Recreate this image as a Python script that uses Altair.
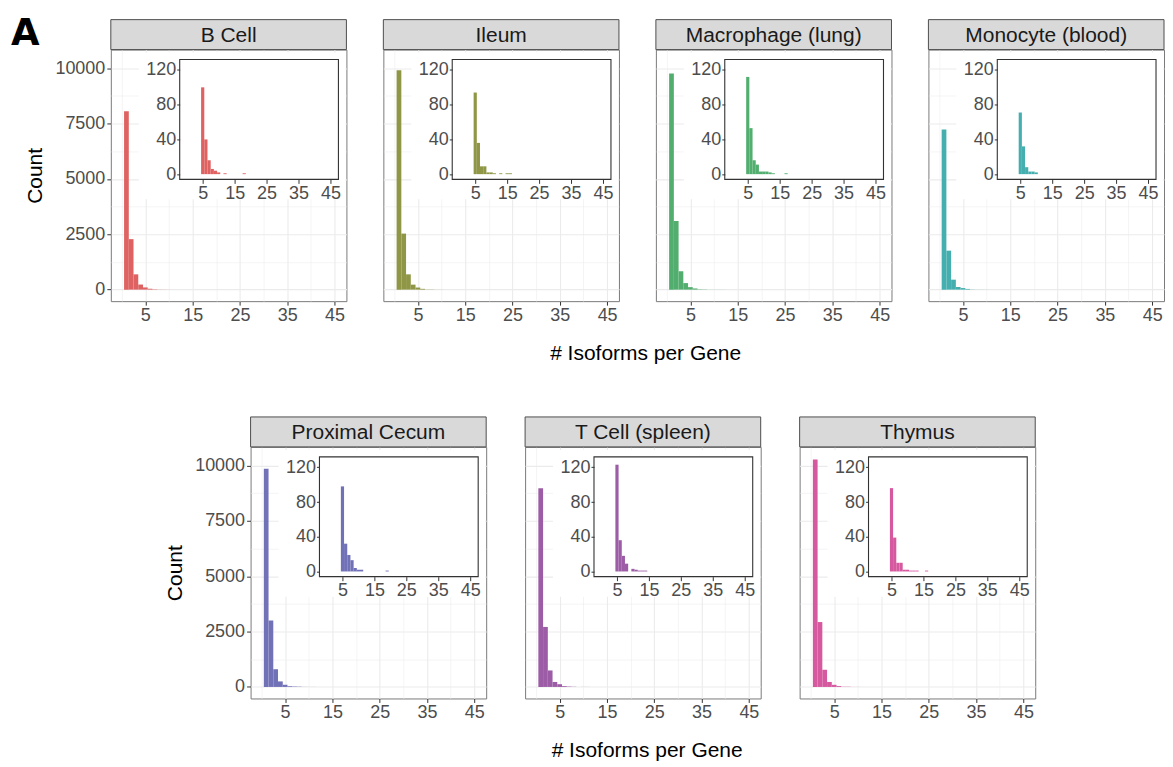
import altair as alt
import pandas as pd

# ---------------- data ----------------
isoforms = list(range(1, 21))

tissues = ["B Cell", "Ileum", "Macrophage (lung)", "Monocyte (blood)",
           "Proximal Cecum", "T Cell (spleen)", "Thymus"]
colors = ["#DF6262", "#8F9645", "#52AE6E", "#45AFB0", "#7171B8", "#9C5CA6", "#D6589F"]

b_cell     = [8050, 2280, 690, 230, 100, 40, 16, 6, 4, 2, 0, 1, 0, 0, 0, 0, 0, 1, 0, 0]
ileum      = [9910, 2530, 690, 225, 94, 36, 9, 9, 2, 2, 1, 0, 1, 0, 1, 1, 0, 0, 0, 0]
macrophage = [9760, 3100, 830, 295, 112, 53, 16, 11, 3, 3, 3, 2, 1, 0, 0, 0, 1, 0, 0, 0]
monocyte   = [7230, 1760, 450, 120, 71, 32, 8, 3, 3, 2, 0, 0, 0, 0, 0, 0, 0, 0, 0, 0]
cecum      = [9850, 3000, 800, 250, 98, 32, 19, 13, 4, 2, 2, 0, 0, 0, 0, 0, 0, 0, 1, 0]
t_cell     = [8970, 2710, 745, 225, 123, 36, 18, 9, 0, 3, 2, 1, 1, 1, 0, 0, 0, 0, 0, 0]
thymus     = [10270, 2930, 776, 225, 96, 39, 10, 10, 2, 2, 1, 1, 1, 0, 0, 1, 0, 0, 0, 0]

x_grid = [0, 5, 10, 15, 20, 25, 30, 35, 40, 45]
y_grid = [0, 1250, 2500, 3750, 5000, 6250, 7500, 8750, 10000]
inset_x_ticks = [5, 15, 25, 35, 45]
inset_y_ticks = [0, 40, 80, 120]

# ---------------- layout constants ----------------
W, H = 236, 252
STRIP = 30
X_DOM = [-2.3, 47.5]
Y_DOM = [-520, 10840]
IX_DOM = [-2.2, 47.5]
IY_DOM = [-6, 132]
IX_RANGE = [69, 228]
IY_RANGE = [130, 10]
FONT = "Liberation Sans"
TICK_FS = 18
SPACER_W = 15


def make_panel(name, counts, color, first=False, letter=False):
    df = pd.DataFrame({"isoforms": isoforms, "count": counts})
    df = df[df["count"] > 0].reset_index(drop=True)
    df_in = df[df["isoforms"] >= 5].reset_index(drop=True)
    lab = pd.DataFrame({"name": [name]})

    xmaj = "datum.value % 10 == 5"
    x_axis = alt.Axis(
        values=x_grid, labelExpr=f"{xmaj} ? datum.label : ''",
        tickOpacity={"condition": {"test": xmaj, "value": 1}, "value": 0},
        gridWidth={"condition": {"test": xmaj, "value": 1.1}, "value": 0.55},
        gridColor="#EBEBEB", domain=False, tickColor="#333333", tickSize=4,
        labelPadding=1, labelFontSize=TICK_FS, labelColor="#4D4D4D", title=None,
        labelOverlap=False, labelFlush=False, labelBound=False)

    ymaj = "datum.value % 2500 == 0"
    if first:
        y_axis = alt.Axis(
            values=y_grid, format="d", labelExpr=f"{ymaj} ? datum.label : ''",
            tickOpacity={"condition": {"test": ymaj, "value": 1}, "value": 0},
            gridWidth={"condition": {"test": ymaj, "value": 1.1}, "value": 0.55},
            gridColor="#EBEBEB", domain=False, tickColor="#333333", tickSize=4,
            labelPadding=2, labelFontSize=TICK_FS, labelColor="#4D4D4D",
            title="Count", titleFontSize=21, titleFontWeight="normal",
            titleColor="black", titlePadding=9, labelOverlap=False)
    else:
        y_axis = alt.Axis(
            values=y_grid, labels=False, ticks=False, domain=False,
            gridWidth={"condition": {"test": ymaj, "value": 1.1}, "value": 0.55},
            gridColor="#EBEBEB", title=None)

    calc = dict(lo="datum.isoforms - 0.5", hi="datum.isoforms + 0.5", base="0")

    bg = alt.Chart(lab).mark_rect(fill="white").encode(
        x=alt.value(28), x2=alt.value(W - 1), y=alt.value(3), y2=alt.value(150))

    bars = alt.Chart(df).transform_calculate(**calc).mark_rect(color=color).encode(
        x=alt.X("lo:Q", scale=alt.Scale(domain=X_DOM, nice=False, zero=False), axis=x_axis),
        x2="hi:Q",
        y=alt.Y("count:Q", scale=alt.Scale(domain=Y_DOM, nice=False, zero=False), axis=y_axis),
        y2="base:Q")

    strip = alt.Chart(lab).mark_rect(fill="#D9D9D9", stroke="#4D4D4D", strokeWidth=1).encode(
        x=alt.value(0), x2=alt.value(W), y=alt.value(-STRIP), y2=alt.value(0))
    strip_text = alt.Chart(lab).mark_text(
        font=FONT, fontSize=21, color="#1A1A1A", align="center", baseline="middle").encode(
        text="name:N", x=alt.value(W / 2), y=alt.value(-STRIP / 2 + 1))

    main_layers = [bg, bars, strip, strip_text]
    if letter:
        a_txt = alt.Chart(lab).mark_text(
            text="A", font="DejaVu Sans", fontWeight="bold", fontSize=37,
            align="left", baseline="alphabetic", color="black").encode(
            x=alt.value(-100), y=alt.value(-5))
        main_layers.append(a_txt)
    main = alt.layer(*main_layers)

    box = alt.Chart(lab).mark_rect(fill="white", stroke="#333333", strokeWidth=1.1).encode(
        x=alt.value(IX_RANGE[0]), x2=alt.value(IX_RANGE[1]),
        y=alt.value(IY_RANGE[1]), y2=alt.value(IY_RANGE[0]))

    ix_axis = alt.Axis(
        orient="bottom", offset=IY_RANGE[0] - H, values=inset_x_ticks, grid=False,
        domain=False, tickColor="#333333", tickSize=4, labelPadding=1,
        labelFontSize=TICK_FS, labelColor="#4D4D4D", title=None, zindex=1,
        labelOverlap=False, labelFlush=False, labelBound=False)
    iy_axis = alt.Axis(
        orient="left", offset=-IX_RANGE[0], values=inset_y_ticks, grid=False,
        domain=False, tickColor="#333333", tickSize=3, labelPadding=1,
        labelFontSize=TICK_FS, labelColor="#4D4D4D", title=None, zindex=1,
        labelOverlap=False, labelFlush=False, labelBound=False)

    ibars = alt.Chart(df_in).transform_calculate(**calc).mark_rect(color=color).encode(
        x=alt.X("lo:Q", scale=alt.Scale(domain=IX_DOM, range=IX_RANGE, nice=False, zero=False),
                axis=ix_axis),
        x2="hi:Q",
        y=alt.Y("count:Q", scale=alt.Scale(domain=IY_DOM, range=IY_RANGE, nice=False, zero=False),
                axis=iy_axis),
        y2="base:Q")

    inset = alt.layer(box, ibars)

    return alt.layer(main, inset).resolve_scale(x="independent", y="independent").properties(
        width=W, height=H)


series = [b_cell, ileum, macrophage, monocyte, cecum, t_cell, thymus]

top_panels = [make_panel(tissues[i], series[i], colors[i], first=(i == 0), letter=(i == 0))
              for i in range(4)]
bottom_panels = [make_panel(tissues[i], series[i], colors[i], first=(i == 4))
                 for i in range(4, 7)]

spacer = alt.Chart(pd.DataFrame({"v": [0]})).mark_point(opacity=0).encode(
    x=alt.X("v:Q", axis=None), y=alt.Y("v:Q", axis=None)).properties(
    width=SPACER_W, height=H, view=alt.ViewBackground(stroke="transparent"))


def xtitle(dx):
    return alt.TitleParams("# Isoforms per Gene", orient="bottom", anchor="middle",
                           font=FONT, fontSize=21, fontWeight="normal", color="black",
                           offset=18, dx=dx)


top = alt.hconcat(*top_panels, spacing=35).properties(title=xtitle(58))
bottom = alt.hconcat(spacer, *bottom_panels, spacing=37).properties(title=xtitle(74))

chart = alt.vconcat(top, bottom, spacing=52).properties(
    padding={"left": 2, "top": 5, "right": 0, "bottom": 0}
).configure(font=FONT).configure_view(stroke="#7A7A7A", strokeWidth=1).configure_axis(
    labelFont=FONT, titleFont=FONT)

chart.save("out.html", embed_options={"renderer": "svg", "actions": False})
